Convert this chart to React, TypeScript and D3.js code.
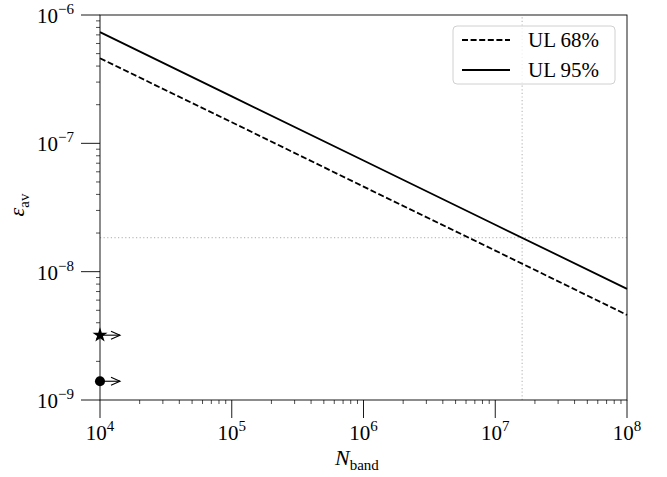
import React from "react";
import * as d3 from "d3";

// values, one per decade
const nBand = [1e4, 1e5, 1e6, 1e7, 1e8];
const ul68 = [4.6e-7, 1.46e-7, 4.6e-8, 1.46e-8, 4.6e-9];
const ul95 = [7.35e-7, 2.32e-7, 7.35e-8, 2.32e-8, 7.35e-9];

// dotted reference lines
const refN = 1.6e7;
const refEps = 1.84e-8;

// lower-limit markers at the left edge
const markerN = [1e4, 1e4];
const markerEps = [3.2e-9, 1.4e-9];
const markerKind = ["star", "circle"];

const xTickExp = [4, 5, 6, 7, 8];
const yTickExp = [-9, -8, -7, -6];

const W = 667;
const H = 477;
const FONT = "'Liberation Serif', 'DejaVu Serif', serif";

export default function App() {
    const x = d3.scaleLog().domain([1e4, 1e8]).range([100, 627]);
    const y = d3.scaleLog().domain([1e-9, 1e-6]).range([400, 15]);

    const line = d3.line<number>()
        .x((d, i) => x(nBand[i]))
        .y((d) => y(d));

    // minor ticks 2..9 in every decade
    const xMinor: number[] = [];
    xTickExp.slice(0, -1).forEach((e) => { for (let k = 2; k < 10; k++) xMinor.push(k * Math.pow(10, e)); });
    const yMinor: number[] = [];
    yTickExp.slice(0, -1).forEach((e) => { for (let k = 2; k < 10; k++) yMinor.push(k * Math.pow(10, e)); });

    const [x0, x1] = x.range();
    const [y0, y1] = y.range();

    return (
        <svg width={W} height={H} style={{ position: "absolute", left: 0, top: 0, background: "#fff" }} fontFamily={FONT}>
            {/* dotted guide lines */}
            <line x1={x(refN)} x2={x(refN)} y1={y0} y2={y1} stroke="#bdbdbd" strokeWidth={1.2} strokeDasharray="1.2 2.4" />
            <line x1={x0} x2={x1} y1={y(refEps)} y2={y(refEps)} stroke="#bdbdbd" strokeWidth={1.2} strokeDasharray="1.2 2.4" />

            {/* upper limit curves */}
            <path d={line(ul68) || ""} fill="none" stroke="#000" strokeWidth={1.8} strokeDasharray="6 2.6" />
            <path d={line(ul95) || ""} fill="none" stroke="#000" strokeWidth={1.8} />

            {/* frame */}
            <rect x={x0} y={y1} width={x1 - x0} height={y0 - y1} fill="none" stroke="#000" strokeWidth={0.9} />

            {/* x axis ticks */}
            {xMinor.map((v) => (
                <line key={"xm" + v} x1={x(v)} x2={x(v)} y1={y0} y2={y0 + 4} stroke="#000" strokeWidth={0.7} />
            ))}
            {xTickExp.map((e) => (
                <g key={"xt" + e}>
                    <line x1={x(Math.pow(10, e))} x2={x(Math.pow(10, e))} y1={y0} y2={y0 + 18} stroke="#000" strokeWidth={0.9} />
                    <text x={x(Math.pow(10, e))} y={440} textAnchor="middle" fontSize={21}>
                        10<tspan dy={-9} fontSize={15}>{e}</tspan>
                    </text>
                </g>
            ))}

            {/* y axis ticks */}
            {yMinor.map((v) => (
                <line key={"ym" + v} x1={x0 - 4} x2={x0} y1={y(v)} y2={y(v)} stroke="#000" strokeWidth={0.7} />
            ))}
            {yTickExp.map((e) => (
                <g key={"yt" + e}>
                    <line x1={x0 - 19} x2={x0} y1={y(Math.pow(10, e))} y2={y(Math.pow(10, e))} stroke="#000" strokeWidth={0.9} />
                    <text x={74} y={y(Math.pow(10, e)) + 8} textAnchor="end" fontSize={21}>
                        10<tspan dy={-9} fontSize={15}>{"\u2212" + Math.abs(e)}</tspan>
                    </text>
                </g>
            ))}

            {/* markers with arrows */}
            {markerN.map((n, i) => {
                const cx = x(n);
                const cy = y(markerEps[i]);
                const sym = markerKind[i] === "star"
                    ? d3.symbol().type(d3.symbolStar).size(70)()
                    : d3.symbol().type(d3.symbolCircle).size(80)();
                return (
                    <g key={"mk" + i}>
                        <line x1={cx} x2={cx + 20} y1={cy} y2={cy} stroke="#000" strokeWidth={1.1} />
                        <path d={`M${cx + 11},${cy - 4}L${cx + 20},${cy}L${cx + 11},${cy + 4}`} fill="none" stroke="#000" strokeWidth={1.1} />
                        <path d={sym || ""} transform={`translate(${cx},${cy})`} fill="#000" />
                    </g>
                );
            })}

            {/* legend */}
            <rect x={453} y={26} width={162} height={58} rx={4} fill="#fff" fillOpacity={0.8} stroke="#d0d0d0" strokeWidth={1} />
            <line x1={462} x2={510} y1={40} y2={40} stroke="#000" strokeWidth={1.8} strokeDasharray="6 2.6" />
            <text x={528} y={47} fontSize={21}>UL 68%</text>
            <line x1={462} x2={510} y1={70} y2={70} stroke="#000" strokeWidth={1.8} />
            <text x={528} y={77} fontSize={21}>UL 95%</text>

            {/* axis labels */}
            <text x={335} y={465} fontSize={22}>
                <tspan fontStyle="italic">N</tspan>
                <tspan dy={5} fontSize={15}>band</tspan>
            </text>
            <text transform={`translate(24,205) rotate(-90)`} textAnchor="middle" fontSize={22}>
                <tspan fontStyle="italic">ε</tspan>
                <tspan dy={5} fontSize={15}>av</tspan>
            </text>
        </svg>
    );
}
